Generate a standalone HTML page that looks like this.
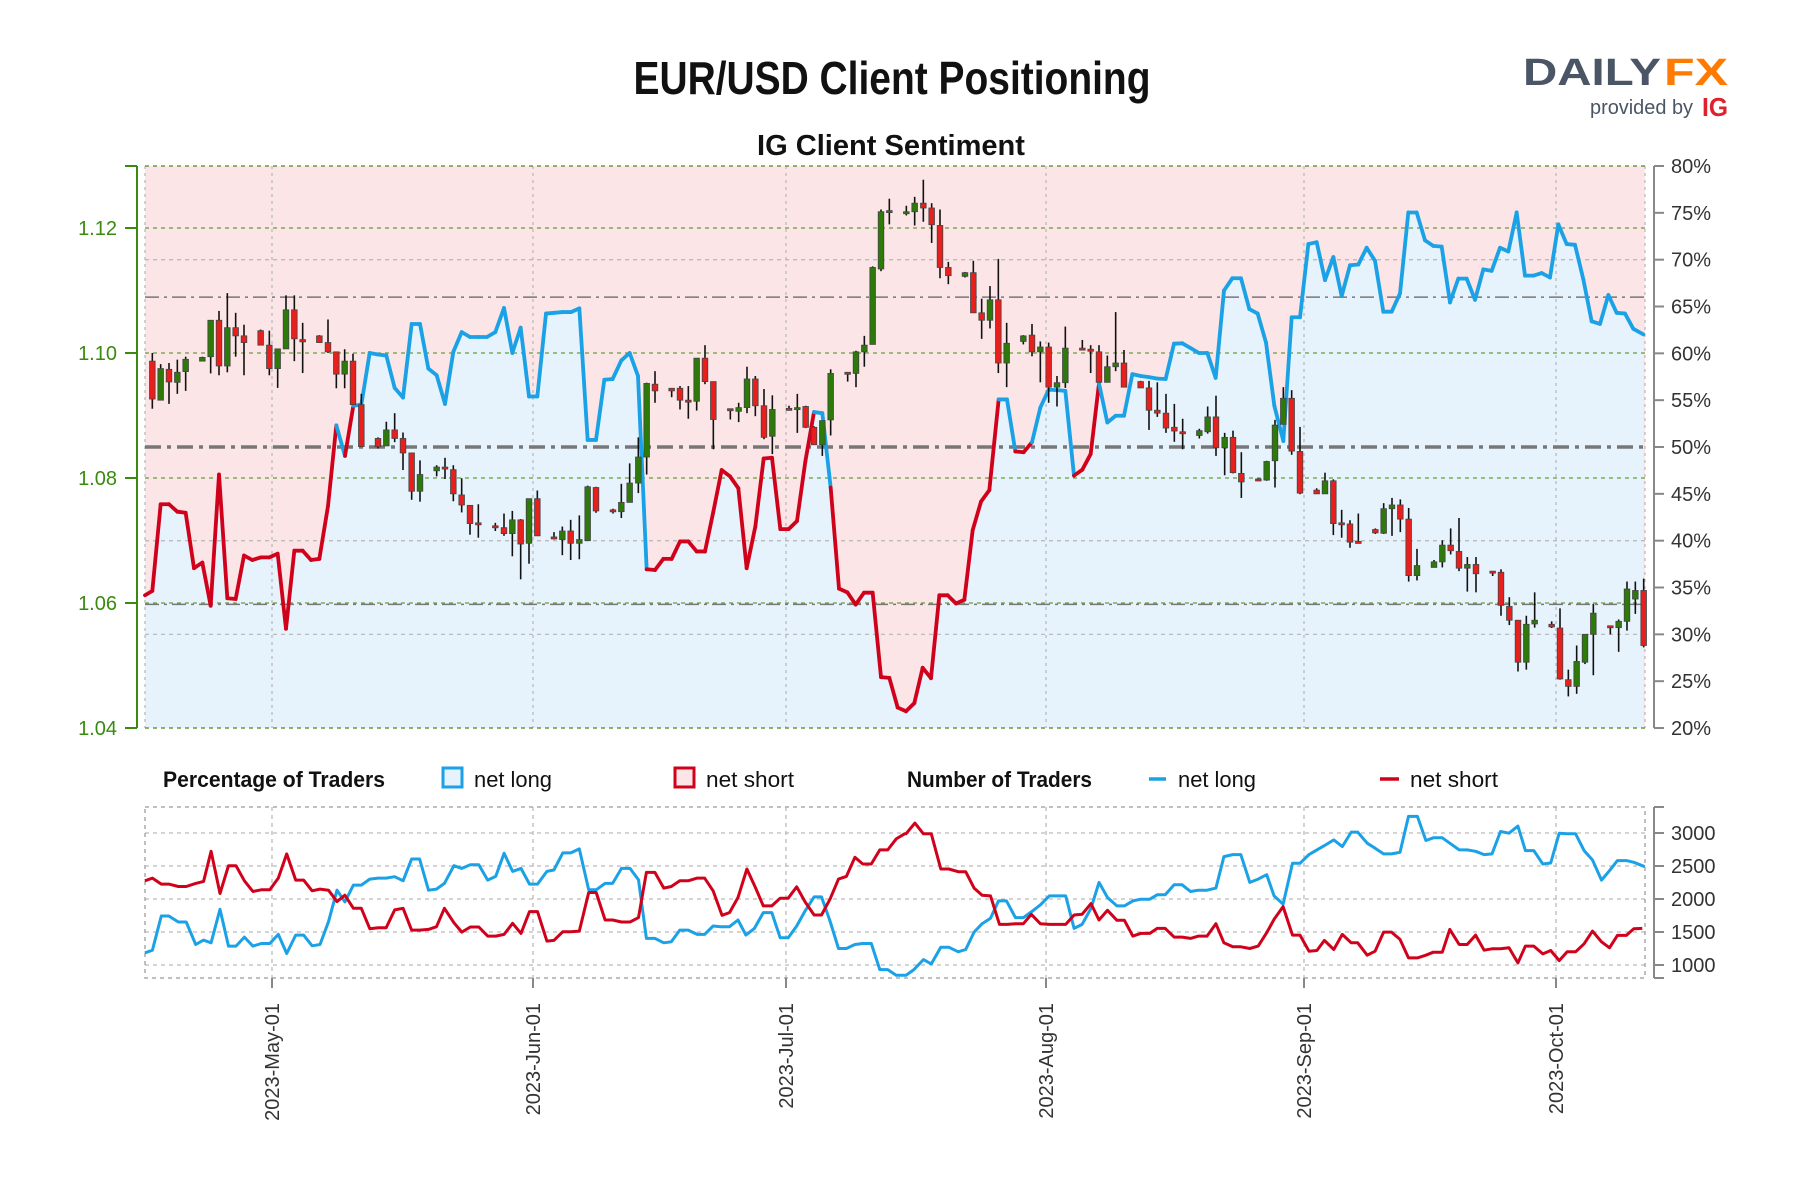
<!DOCTYPE html>
<html><head><meta charset="utf-8"><style>
html,body{margin:0;padding:0;background:#fff;}
svg{display:block;}
text{font-family:"Liberation Sans",sans-serif;}
.n{font-family:"Liberation Sans Narrow","Liberation Sans",sans-serif;}
</style></head><body>
<svg id="s" width="1800" height="1200" xmlns="http://www.w3.org/2000/svg">
<rect width="1800" height="1200" fill="#fff"/>
<text x="892" y="94" text-anchor="middle" font-size="46" font-weight="bold" fill="#111" textLength="517" lengthAdjust="spacingAndGlyphs">EUR/USD Client Positioning</text>
<text x="891" y="155" text-anchor="middle" font-size="29" font-weight="bold" fill="#111" textLength="268" lengthAdjust="spacingAndGlyphs">IG Client Sentiment</text>
<text x="1523" y="85" font-size="38" font-weight="bold" fill="#4a5566" textLength="138" lengthAdjust="spacingAndGlyphs">DAILY</text>
<text x="1664" y="85" font-size="38" font-weight="bold" fill="#ff7a00" textLength="64" lengthAdjust="spacingAndGlyphs">FX</text>
<text x="1590" y="114" font-size="20" fill="#4a5566" textLength="103" lengthAdjust="spacingAndGlyphs">provided by</text>
<text x="1702" y="116" font-size="26" font-weight="bold" fill="#e0202a" textLength="26" lengthAdjust="spacingAndGlyphs">IG</text>
<g id="g"></g>
</svg>
<script>
const NS="http://www.w3.org/2000/svg",G=document.getElementById('g');
function el(t,a,p){const e=document.createElementNS(NS,t);for(const k in a)e.setAttribute(k,a[k]);(p||G).appendChild(e);return e;}
const MX=(x0,sx)=>x0+sx/3, MY=sy=>166+(sy-15)*0.3717;
const BX=(x0,sx)=>x0+sx/2.01, BY=sy=>807+(sy-20)*0.3353;
const L=145,R=1645,T=166,B=728;
// background
el('rect',{x:L,y:T,width:R-L,height:B-T,fill:'#fbe5e6'});
// sentiment line data
const line=[
[130,[45,1170,67,1158,92,925,117,925,142,945,167,948,192,1097,217,1082,242,1198,267,845,292,1178,317,1180,342,1063,367,1075,392,1068,418,1068,443,1058,468,1260,493,1050,518,1050,543,1075,568,1072,594,930,619,713,645,795,670,660,694,657,719,518,744,522,769,525,794,612,819,638,845,440,870,440,895,560,920,578,945,655,970,515,995,462,1020,475,1045,475,1071,475,1096,462,1122,397,1147,518,1172,450]],
[520,[27,635,52,635,78,412,103,410,128,408,153,408,178,398,203,752,228,752,253,590,278,588,304,538,329,518,354,580,380,1100,405,1102,430,1072,455,1072,480,1025,505,1025,530,1052,555,1052,580,945,605,833,630,850,655,882,680,1097,706,985,731,802,756,800,781,992,806,992,831,970,856,810,882,677,907,680,932,880,957,1152,982,1162,1007,1195,1032,1163,1058,1163,1083,1390,1108,1392,1133,1472,1158,1482]],
[910,[13,1460,38,1365,63,1393,88,1170,113,1170,138,1192,163,1182,188,995,213,918,238,887,266,643,291,643,316,783,341,785,366,758,391,665,416,617,441,618,466,620,492,848,517,832,542,790,567,600,592,705,617,687,642,687,667,575,692,580,717,583,742,587,767,588,792,493,817,492,842,505,867,518,892,518,917,585,942,350,967,317,993,317,1018,400,1043,412,1068,490,1093,660,1120,755,1145,422]],
[1300,[0,422,25,225,50,220,75,322,100,260,125,365,150,282,175,280,200,235,225,270,250,407,275,407,300,358,325,140,350,140,375,215,400,230,425,232,450,382,475,318,500,318,525,375,550,293,575,297,600,235,625,245,650,140,675,310,700,310,725,303,750,315,775,172,800,225,825,227,850,320,875,433,900,440,925,362,950,410,975,412,1000,453,1030,468]]];
const P=[];line.forEach(([x0,a])=>{for(let i=0;i<a.length;i+=2)P.push([MX(x0,a[i]),MY(a[i+1])]);});
let poly=`${L},${B} `+P.map(p=>p[0].toFixed(1)+','+p[1].toFixed(1)).join(' ')+` ${P[P.length-1][0].toFixed(1)},${B}`;
el('polygon',{points:poly,fill:'#e6f3fc'});
// grids
const yp=p=>166+(80-p)*9.367, ypr=v=>728-(v-1.04)*6250;
[1.12,1.10,1.08,1.06].forEach(v=>el('line',{x1:L,x2:R,y1:ypr(v),y2:ypr(v),stroke:'#6a9a3a','stroke-width':1.3,'stroke-dasharray':'4,4'}));
[70,40,30].forEach(p=>el('line',{x1:L,x2:R,y1:yp(p),y2:yp(p),stroke:'#bbb','stroke-width':1.3,'stroke-dasharray':'4,4'}));
[66,33.2].forEach(p=>el('line',{x1:L,x2:R,y1:yp(p),y2:yp(p),stroke:'#777','stroke-width':1.5,'stroke-dasharray':'14,5,3,5'}));
const months=[272,533,786,1046,1304,1556];
months.forEach(x=>{el('line',{x1:x,x2:x,y1:T,y2:B,stroke:'#bbb','stroke-width':1.3,'stroke-dasharray':'3,4'});});
el('line',{x1:L,x2:L,y1:T,y2:B,stroke:'#bbb','stroke-width':1.3,'stroke-dasharray':'3,4'});
el('line',{x1:R,x2:R,y1:T,y2:B,stroke:'#bbb','stroke-width':1.3,'stroke-dasharray':'3,4'});
el('line',{x1:L,x2:R,y1:T,y2:T,stroke:'#6a9a3a','stroke-width':1.5,'stroke-dasharray':'4,4'});
el('line',{x1:L,x2:R,y1:B,y2:B,stroke:'#6a9a3a','stroke-width':1.5,'stroke-dasharray':'4,4'});
el('line',{x1:L,x2:R,y1:yp(50),y2:yp(50),stroke:'#777','stroke-width':3.5,'stroke-dasharray':'16,6,4,6'});
// line segments
for(let i=0;i<P.length-1;i++){const c=P[i][1]<yp(50)?'#1ba1e6':'#d0021b';
el('line',{x1:P[i][0],y1:P[i][1],x2:P[i+1][0],y2:P[i+1][1],stroke:c,'stroke-width':3.8,'stroke-linecap':'round'});}
// candles [sx,bt,bb,wt,wb,g]
const C=[
[130,[[67,540,642,518,668,0],[92,560,645,548,645,1],[117,562,596,545,655,0],[142,570,597,536,628,1],[167,535,568,528,620,1],[217,530,540,528,540,1],[242,430,528,430,573,1],[267,430,553,405,578,0],[292,450,553,357,570,1],[317,450,472,410,528,0],[342,472,490,442,578,0],[392,458,497,455,497,0],[418,497,560,458,578,0],[443,507,560,507,612,1],[468,402,507,363,507,1],[493,402,480,363,540,0],[518,482,488,437,572,0],[568,472,490,470,490,0],[594,490,515,428,518,0],[619,515,575,515,613,0],[644,540,575,508,613,1],[669,540,657,520,657,0],[694,657,770,628,770,0],[744,748,770,745,775,0],[769,725,768,703,768,1],[794,725,748,680,758,0],[819,748,787,732,833,0],[845,787,890,787,913,0],[870,845,890,807,918,1],[920,825,835,820,850,1],[945,825,830,800,857,0],[970,832,897,820,917,0],[995,900,927,855,947,0],[1020,928,977,928,1007,0],[1045,975,980,925,1015,0],[1096,983,988,975,997,0],[1122,988,1004,950,1010,0],[1147,967,1004,943,1065,1],[1172,967,1032,965,1127,0]]],
[520,[[27,910,1030,910,1085,1],[52,910,1010,888,1010,0],[102,1013,1018,1000,1020,0],[127,997,1020,985,1062,1],[152,997,1030,967,1075,0],[178,1020,1030,955,1073,1],[203,878,1023,875,1023,1],[228,880,943,878,948,0],[279,940,945,937,950,0],[304,920,945,870,962,1],[329,868,920,815,920,1],[355,798,868,745,895,1],[380,600,798,598,845,1],[405,602,620,567,652,0],[455,613,620,613,637,0],[480,613,645,607,670,0],[505,645,650,607,695,0],[530,532,648,532,673,1],[555,532,595,497,602,0],[580,595,697,595,777,0],[631,668,672,668,697,0],[656,665,675,652,704,1],[681,588,665,555,680,1],[706,588,660,580,688,0],[732,660,745,615,750,0],[757,670,742,632,790,1],[807,667,670,660,673,0],[832,665,668,628,733,1],[857,662,718,660,720,0],[882,718,765,715,765,0],[907,700,765,700,795,1],[932,573,698,562,740,1],[983,570,574,570,595,0],[1008,515,573,512,610,1],[1033,497,515,472,555,1],[1058,288,495,285,495,1],[1083,138,292,132,298,1],[1108,135,138,103,172,1],[1159,138,143,122,148,1],[1184,115,138,98,175,1]]],
[910,[[40,115,128,52,165,0],[65,128,173,115,222,0],[90,175,288,132,317,0],[115,288,310,273,333,0],[165,302,312,300,315,1],[190,302,410,270,410,0],[215,410,430,372,480,0],[240,375,430,338,452,1],[265,375,545,265,572,0],[290,492,545,437,610,1],[340,472,487,470,495,1],[366,470,515,440,527,0],[391,502,515,487,597,1],[416,502,610,490,652,0],[441,598,610,580,662,1],[466,505,598,447,612,1],[517,505,508,483,510,0],[542,508,512,497,572,0],[567,515,597,497,597,0],[592,555,597,525,597,1],[617,545,555,408,567,1],[642,545,610,510,610,0],[692,595,612,593,612,0],[717,612,672,593,725,0],[742,672,680,597,690,0],[768,680,720,628,733,0],[793,718,728,655,757,0],[818,730,735,695,777,0],[868,727,740,722,748,1],[893,690,730,662,735,1],[918,690,773,633,795,0],[944,745,773,733,847,1],[969,745,840,727,842,0],[994,842,865,785,908,0],[1045,857,860,855,860,0],[1070,810,860,808,862,1],[1095,712,808,698,880,1],[1120,640,710,610,710,1],[1145,640,782,618,792,0],[1170,783,895,717,898,0]]],
[1300,[[50,887,897,882,897,0],[75,862,897,840,897,1],[100,862,977,858,1008,0],[125,975,978,940,1015,0],[150,978,1027,968,1042,0],[175,1025,1028,950,1028,0],[226,993,1002,990,1005,0],[251,937,1003,922,1005,1],[276,927,937,908,1010,1],[301,927,965,912,1000,0],[326,965,1117,935,1133,0],[351,1090,1117,1045,1130,1],[402,1080,1095,1075,1095,1],[427,1035,1080,1022,1095,1],[452,1035,1050,990,1060,0],[477,1052,1097,962,1105,0],[502,1087,1097,1067,1160,1],[528,1087,1112,1067,1162,0],[578,1105,1108,1105,1118,0],[603,1108,1197,1100,1225,0],[628,1200,1237,1175,1250,0],[654,1237,1350,1237,1375,0],[679,1248,1350,1225,1370,1],[704,1237,1247,1162,1257,1],[755,1248,1255,1240,1258,0],[780,1258,1395,1205,1397,0],[805,1397,1415,1370,1442,0],[830,1348,1415,1305,1435,1],[855,1275,1350,1275,1355,1],[880,1218,1275,1193,1385,1],[931,1252,1257,1252,1275,0],[956,1240,1257,1235,1322,1],[981,1153,1240,1133,1265,1],[1006,1157,1180,1133,1220,1],[1031,1157,1305,1125,1310,0]]]];
C.forEach(([x0,arr])=>arr.forEach(([sx,bt,bb,wt,wb,g])=>{const x=MX(x0,sx);
el('line',{x1:x,x2:x,y1:MY(wt),y2:MY(wb),stroke:'#111','stroke-width':1.6});
const y1=MY(bt),h=Math.max(MY(bb)-y1,2);
el('rect',{x:x-2.8,y:y1,width:5.6,height:h,fill:g?'#2d7a0a':'#e8201d',stroke:'#444','stroke-width':0.8});}));
// left axis
el('line',{x1:137,x2:137,y1:T,y2:B,stroke:'#3a8a10','stroke-width':2});
[1.12,1.10,1.08,1.06,1.04].forEach(v=>{const y=ypr(v);el('line',{x1:125,x2:137,y1:y,y2:y,stroke:'#3a8a10','stroke-width':2});
el('text',{x:117,y:y+7,'text-anchor':'end','font-size':20,fill:'#3a8a10'}).textContent=v.toFixed(2);});
el('line',{x1:125,x2:137,y1:T,y2:T,stroke:'#3a8a10','stroke-width':2});
// right axis
el('line',{x1:1654,x2:1654,y1:T,y2:B,stroke:'#888','stroke-width':2});
for(let p=20;p<=80;p+=5){const y=yp(p);el('line',{x1:1654,x2:1664,y1:y,y2:y,stroke:'#888','stroke-width':2});
el('text',{x:1671,y:y+7,'font-size':20,fill:'#333'}).textContent=p+'%';}
// legend
el('text',{x:163,y:787,'font-size':22,'font-weight':'bold',fill:'#111',class:'n',textLength:222,lengthAdjust:'spacingAndGlyphs'}).textContent='Percentage of Traders';
el('rect',{x:443,y:768,width:19,height:19,fill:'#e6f3fc',stroke:'#1ba1e6','stroke-width':3});
el('text',{x:474,y:787,'font-size':22,fill:'#111',class:'n',textLength:78,lengthAdjust:'spacingAndGlyphs'}).textContent='net long';
el('rect',{x:675,y:768,width:19,height:19,fill:'#fbe5e6',stroke:'#d0021b','stroke-width':3});
el('text',{x:706,y:787,'font-size':22,fill:'#111',class:'n',textLength:88,lengthAdjust:'spacingAndGlyphs'}).textContent='net short';
el('text',{x:907,y:787,'font-size':22,'font-weight':'bold',fill:'#111',class:'n',textLength:185,lengthAdjust:'spacingAndGlyphs'}).textContent='Number of Traders';
el('line',{x1:1149,x2:1166,y1:779,y2:779,stroke:'#1ba1e6','stroke-width':3.5});
el('text',{x:1178,y:787,'font-size':22,fill:'#111',class:'n',textLength:78,lengthAdjust:'spacingAndGlyphs'}).textContent='net long';
el('line',{x1:1380,x2:1399,y1:779,y2:779,stroke:'#d0021b','stroke-width':3.5});
el('text',{x:1410,y:787,'font-size':22,fill:'#111',class:'n',textLength:88,lengthAdjust:'spacingAndGlyphs'}).textContent='net short';
// bottom panel
const BT=807,BB=978;
[833,866,899,932,965].forEach(y=>el('line',{x1:L,x2:R,y1:y,y2:y,stroke:'#bbb','stroke-width':1.3,'stroke-dasharray':'4,4'}));
months.forEach(x=>el('line',{x1:x,x2:x,y1:BT,y2:BB,stroke:'#bbb','stroke-width':1.3,'stroke-dasharray':'4,4'}));
el('rect',{x:L,y:BT,width:R-L,height:BB-BT,fill:'none',stroke:'#aaa','stroke-width':1.5,'stroke-dasharray':'4,4'});
const bl=[[130,[30,455,45,447,63,345,78,345,97,363,113,363,132,430,148,417,163,425,181,325,198,435,213,435,230,408,247,435,264,427,281,427,298,400,315,457,333,402,349,402,366,434,382,430,399,362,416,268,432,303,449,253,465,253,482,235,499,232,515,232,532,228,549,240,566,175,582,175,600,268,616,265,632,248,651,195,667,203,684,192,701,192,719,238,735,227,752,158,769,212,786,203,803,250,819,250,838,212,852,208,870,157,886,157,903,145,922,267,937,267,955,248,970,248,988,203,1005,203,1022,237,1038,412,1055,412,1073,425,1088,422,1105,387,1122,387,1140,400,1155,400,1172,375,1188,377,1205,377,1222,357,1238,402,1255,382,1273,335,1290,335,1307,410,1323,410,1340,375,1357,330,1375,288,1390,288,1407,360,1424,442,1440,442,1457,430,1473,427,1490,427,1507,505,1523,505,1540,522,1557,522]],
[900,[12,522,28,505,47,475,63,488,82,438,98,438,117,452,132,445,149,393,165,368,182,352,198,300,214,300,232,350,248,350,264,333,282,312,300,285,333,285,350,382,366,370,384,322,400,245,417,290,436,315,451,315,468,300,484,295,502,295,517,282,533,282,551,252,567,252,584,272,600,268,617,268,635,262,651,168,669,162,685,162,703,245,720,235,737,222,752,285,770,310,789,188,804,188,822,162,838,148,853,135,872,118,889,138,907,95,920,95,939,128,955,143,972,160,988,160,1005,155,1022,48,1040,48,1057,120,1072,112,1090,112,1105,128,1124,148,1140,148,1157,152,1174,162,1190,160,1207,93,1224,98,1242,77,1257,150,1274,150,1292,190,1308,187,1325,98,1341,100,1358,100,1375,150,1392,178,1410,238,1426,210,1442,180,1460,180,1475,185,1497,198]]];
const rl=[[130,[30,240,45,232,63,250,78,250,97,257,113,257,132,248,148,242,163,152,181,278,198,195,213,195,230,240,247,272,264,267,281,267,298,232,315,160,333,238,349,238,366,270,382,265,399,268,416,302,432,283,449,322,465,322,482,383,499,380,515,380,532,327,549,322,566,387,582,387,600,385,616,377,632,322,651,365,667,393,684,378,701,378,719,405,735,405,752,400,769,367,786,397,803,332,819,332,838,420,852,418,870,392,886,392,903,390,922,275,937,275,955,357,970,357,988,363,1005,363,1022,350,1038,215,1055,215,1073,262,1088,257,1105,240,1122,240,1140,232,1155,232,1172,270,1190,343,1205,335,1222,290,1240,205,1257,260,1273,315,1290,315,1307,292,1323,292,1340,258,1357,303,1375,342,1390,342,1407,295,1424,235,1440,227,1457,170,1473,190,1490,190,1507,148,1523,148,1540,115,1557,100]],
[900,[12,100,30,68,47,100,63,100,82,205,98,205,117,213,132,213,149,262,165,283,182,285,200,370,216,370,232,368,248,368,264,340,282,368,300,370,333,370,350,342,366,340,384,308,400,357,417,328,436,358,451,358,468,405,484,397,502,397,517,382,533,382,551,408,567,408,584,412,600,405,617,405,635,368,651,425,669,437,685,437,703,442,720,435,737,395,752,355,770,317,789,402,804,402,822,450,838,448,853,418,872,445,889,400,907,425,920,425,939,462,955,450,972,393,988,393,1005,415,1022,470,1040,470,1057,462,1072,453,1090,453,1105,385,1124,430,1140,430,1157,402,1174,447,1190,443,1207,443,1224,440,1242,485,1257,435,1274,435,1292,458,1308,448,1325,478,1341,452,1358,452,1375,428,1392,390,1410,422,1426,440,1442,403,1460,403,1475,383,1492,382]]];
function pl(d,c){const pts=[];d.forEach(([x0,a])=>{for(let i=0;i<a.length;i+=2)pts.push(BX(x0,a[i]).toFixed(1)+','+BY(a[i+1]).toFixed(1));});
el('polyline',{points:pts.join(' '),fill:'none',stroke:c,'stroke-width':3,'stroke-linejoin':'round'});}
pl(bl,'#1ba1e6');pl(rl,'#d0021b');
el('line',{x1:1654,x2:1654,y1:BT,y2:BB,stroke:'#888','stroke-width':2});
[[3000,833],[2500,866],[2000,899],[1500,932],[1000,965]].forEach(([v,y])=>{el('line',{x1:1654,x2:1664,y1:y,y2:y,stroke:'#888','stroke-width':2});
el('text',{x:1671,y:y+7,'font-size':20,fill:'#333'}).textContent=v;});
el('line',{x1:1654,x2:1664,y1:BT,y2:BT,stroke:'#888','stroke-width':2});
el('line',{x1:1654,x2:1664,y1:BB,y2:BB,stroke:'#888','stroke-width':2});
const labs=['2023-May-01','2023-Jun-01','2023-Jul-01','2023-Aug-01','2023-Sep-01','2023-Oct-01'];
months.forEach((x,i)=>{el('line',{x1:x,x2:x,y1:BB,y2:BB+10,stroke:'#888','stroke-width':2});
el('text',{x:0,y:0,'font-size':20,fill:'#333','text-anchor':'end',transform:`translate(${x+7},1003) rotate(-90)`}).textContent=labs[i];});
</script>
</body></html>
